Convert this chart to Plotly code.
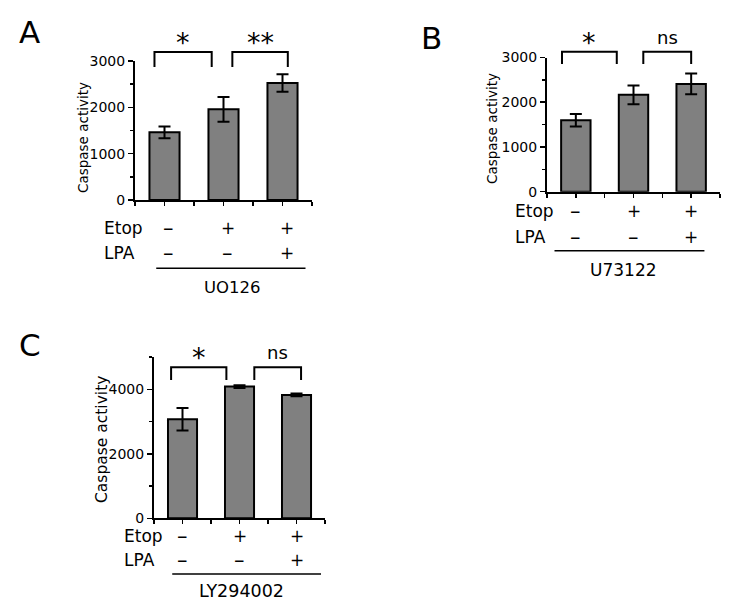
import plotly.graph_objects as go

W, H = 750, 607
FONT = "DejaVu Sans"
BAR_FILL = "#808080"

# ---- data ----
positions = [0, 1, 2]
etop_signs = ["–", "+", "+"]
lpa_signs = ["–", "–", "+"]
row_labels = ["Etop", "LPA"]
y_title = "Caspase activity"
panel_letters = ["A", "B", "C"]
inhibitors = ["UO126", "U73122", "LY294002"]

a_values = [1460, 1957, 2525]
a_errors = [126, 266, 187]
b_values = [1595, 2165, 2410]
b_errors = [140, 210, 230]
c_values = [3070, 4083, 3825]
c_errors = [350, 45, 45]

a_sig = ["*", "**"]
b_sig = ["*", "ns"]
c_sig = ["*", "ns"]


def px_x(v):
    return v / W


def px_y(v):
    return 1 - v / H


X_RANGE = [-0.5, 2.5]


def cat_frac(c):
    return (c - X_RANGE[0]) / (X_RANGE[1] - X_RANGE[0])


panels = [
    dict(values=a_values, errors=a_errors, sig=a_sig,
         xpx=(135, 312), ypx=(200, 61), ymax=3000, dtick=1000, minor=500,
         brackets=[(-0.17, 0.80), (1.15, 2.09)], br_top=3195, br_leg=2870,
         letter_pos=(29.5, 34), title_pos=(83, 138), title_size=13.5,
         rows_y=(228, 252.5), row_x=102, sign_shift=4,
         group_line=(-0.14, 2.39, 268.3), group_label=(232.5, 287, 16.5)),
    dict(values=b_values, errors=b_errors, sig=b_sig,
         xpx=(547, 720), ypx=(191.7, 57.5), ymax=3000, dtick=1000, minor=500,
         brackets=[(-0.24, 0.71), (1.17, 2.0)], br_top=3130, br_leg=2855,
         letter_pos=(431.5, 39.5), title_pos=(492, 129), title_size=13.5,
         rows_y=(211, 237), row_x=513, sign_shift=0,
         group_line=(-0.37, 2.23, 250.7), group_label=(623, 270, 17)),
    dict(values=c_values, errors=c_errors, sig=c_sig,
         xpx=(154, 325), ypx=(518.3, 357), ymax=5000, dtick=2000, minor=1000,
         brackets=[(-0.2, 0.77), (1.26, 2.08)], br_top=4680, br_leg=4287,
         letter_pos=(30, 347), title_pos=(102, 440), title_size=15.5,
         rows_y=(536, 560), row_x=122, sign_shift=0,
         group_line=(-0.18, 2.43, 574), group_label=(241.7, 591, 17.5)),
]

fig = go.Figure()
shapes = []
annotations = []
layout_axes = {}

for i, p in enumerate(panels):
    n = "" if i == 0 else str(i + 1)
    xa, ya = "x" + n, "y" + n
    fig.add_trace(go.Bar(
        x=positions, y=p["values"], xaxis=xa, yaxis=ya, width=0.51,
        marker=dict(color=BAR_FILL, line=dict(color="black", width=2)),
        error_y=dict(type="data", array=p["errors"], color="black",
                     thickness=2, width=6),
        showlegend=False, hoverinfo="skip",
    ))
    layout_axes["xaxis" + n] = dict(
        domain=[px_x(p["xpx"][0]), px_x(p["xpx"][1])], range=X_RANGE,
        anchor=ya, showline=True, linecolor="black", linewidth=2,
        ticks="outside", ticklen=4, tickwidth=1.5, tickcolor="black",
        tickmode="linear", tick0=0, dtick=0.5, showticklabels=False,
        showgrid=False, zeroline=False, fixedrange=True, automargin=False,
    )
    layout_axes["yaxis" + n] = dict(
        domain=[px_y(p["ypx"][0]), px_y(p["ypx"][1])], range=[0, p["ymax"]],
        anchor=xa, showline=True, linecolor="black", linewidth=2,
        ticks="outside", ticklen=5, tickwidth=1.5, tickcolor="black",
        tickmode="linear", tick0=0, dtick=p["dtick"],
        tickfont=dict(family=FONT, size=14, color="black"),
        minor=dict(dtick=p["minor"], ticks="outside", ticklen=3,
                   tickwidth=1.5, tickcolor="black", showgrid=False),
        showgrid=False, zeroline=False, fixedrange=True, automargin=False,
    )
    # significance brackets
    for (c0, c1), s in zip(p["brackets"], p["sig"]):
        yt = p["br_top"] / p["ymax"]
        yl = p["br_leg"] / p["ymax"]
        x0, x1 = cat_frac(c0), cat_frac(c1)
        shapes.append(dict(
            type="path", xref=xa + " domain", yref=ya + " domain",
            path=f"M {x0} {yl} L {x0} {yt} L {x1} {yt} L {x1} {yl}",
            line=dict(color="black", width=2),
        ))
        star = s != "ns"
        annotations.append(dict(
            text=s, xref=xa + " domain", yref=ya + " domain",
            x=(x0 + x1) / 2, y=yt, xanchor="center", yanchor="bottom",
            yshift=-8 if star else 2, showarrow=False,
            font=dict(family=FONT, size=27 if star else 18, color="black"),
        ))
    # panel letter
    annotations.append(dict(
        text=panel_letters[i], xref="paper", yref="paper",
        x=px_x(p["letter_pos"][0]), y=px_y(p["letter_pos"][1]),
        xanchor="center", yanchor="middle", yshift=2, showarrow=False,
        font=dict(family=FONT, size=31, color="black"),
    ))
    # y-axis title
    annotations.append(dict(
        text=y_title, xref="paper", yref="paper", textangle=-90,
        x=px_x(p["title_pos"][0]), y=px_y(p["title_pos"][1]),
        xanchor="center", yanchor="middle", showarrow=False,
        font=dict(family=FONT, size=p["title_size"], color="black"),
    ))
    # treatment rows
    for label, signs, ry in zip(row_labels, [etop_signs, lpa_signs], p["rows_y"]):
        annotations.append(dict(
            text=label, xref="paper", yref="paper",
            x=px_x(p["row_x"]), y=px_y(ry), xanchor="left", yanchor="middle",
            showarrow=False, font=dict(family=FONT, size=17, color="black"),
        ))
        for xpos, sg in zip(positions, signs):
            annotations.append(dict(
                text=sg, xref=xa, yref="paper", x=xpos, y=px_y(ry),
                xshift=p["sign_shift"], xanchor="center", yanchor="middle",
                showarrow=False,
                font=dict(family=FONT, size=21 if sg == "–" else 17,
                          color="black"),
            ))
    # inhibitor group line and label
    g0, g1, gy = p["group_line"]
    shapes.append(dict(
        type="line", xref=xa + " domain", yref="paper",
        x0=cat_frac(g0), x1=cat_frac(g1), y0=px_y(gy), y1=px_y(gy),
        line=dict(color="black", width=1.5),
    ))
    lx, ly, ls = p["group_label"]
    annotations.append(dict(
        text=inhibitors[i], xref="paper", yref="paper",
        x=px_x(lx), y=px_y(ly), xanchor="center", yanchor="middle",
        showarrow=False, font=dict(family=FONT, size=ls, color="black"),
    ))

fig.update_layout(
    width=W, height=H,
    margin=dict(l=0, r=0, t=0, b=0, pad=0, autoexpand=False),
    paper_bgcolor="white", plot_bgcolor="white",
    font=dict(family=FONT, color="black"),
    shapes=shapes, annotations=annotations, **layout_axes,
)

fig.write_html(
    "out.html",
    config={"displayModeBar": False, "staticPlot": True},
    post_script="document.body.style.margin='0';"
                "document.body.style.overflow='hidden';",
)
